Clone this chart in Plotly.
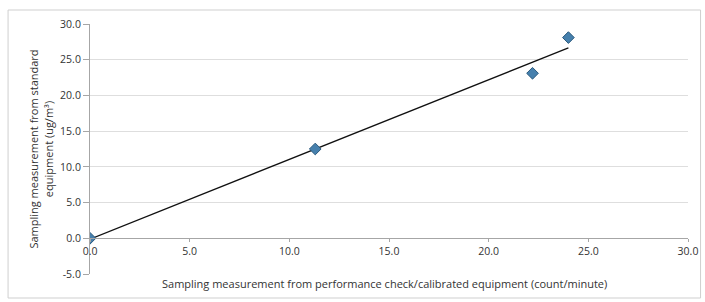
import numpy as np
import plotly.graph_objects as go

# Data
x_vals = [0.0, 11.3, 22.2, 24.0]
y_vals = [0.0, 12.5, 23.1, 28.1]

x_ticks = [0, 5, 10, 15, 20, 25, 30]
y_ticks = [-5, 0, 5, 10, 15, 20, 25, 30]

x_title = "Sampling measurement from performance check/calibrated equipment (count/minute)"
y_title = "Sampling measurement from standard<br>equipment (ug/m³)"

# Linear trendline from the data
slope, intercept = np.polyfit(x_vals, y_vals, 1)
tx = [min(x_vals), max(x_vals)]
ty = [slope * v + intercept for v in tx]

font = "Open Sans, Noto Sans, sans-serif"

fig = go.Figure()
fig.add_trace(go.Scatter(x=tx, y=ty, mode="lines",
                         line=dict(color="#111111", width=1.3),
                         showlegend=False, hoverinfo="skip"))
fig.add_trace(go.Scatter(x=x_vals, y=y_vals, mode="markers",
                         marker=dict(symbol="diamond", size=9, color="#4680ad",
                                     line=dict(color="#2b5a7e", width=1)),
                         showlegend=False))

fig.update_layout(
    width=705, height=302,
    margin=dict(l=90, r=17, t=24, b=28),
    paper_bgcolor="white", plot_bgcolor="white",
    font=dict(family=font, size=10, color="#333333"),
    xaxis=dict(range=[0, 30], tickvals=x_ticks,
               ticktext=[f"{v:.1f}" for v in x_ticks],
               anchor="free", position=5/35, automargin=False,
               showgrid=False, zeroline=False,
               showline=True, linecolor="#a6a6a6", linewidth=1,
               ticks="outside", ticklen=3, tickcolor="#a6a6a6",
               tickfont=dict(size=10.5, color="#333333")),
    yaxis=dict(range=[-5, 30], tickvals=y_ticks,
               ticktext=[f"{v:.1f}" for v in y_ticks],
               automargin=False,
               showgrid=True, gridcolor="#dedede", gridwidth=1,
               zeroline=False,
               showline=True, linecolor="#a6a6a6", linewidth=1,
               ticks="outside", ticklen=6, tickcolor="#a6a6a6",
               tickfont=dict(size=10.5, color="#333333"),
               title=dict(text=y_title, font=dict(size=11, color="#333333"),
                          standoff=4)),
    annotations=[dict(text=x_title, xref="paper", yref="paper",
                      x=0.493, y=-0.036, xanchor="center", yanchor="middle",
                      showarrow=False, font=dict(size=11, color="#333333"))],
    shapes=[dict(type="rect", xref="paper", yref="paper",
                 x0=-0.137, x1=1.021, y0=-0.096, y1=1.056,
                 line=dict(color="#cfcfcf", width=1))],
)

fig.write_html(
    "out.html",
    config={"displayModeBar": False},
    post_script="document.body.style.margin='0';document.body.style.overflow='hidden';",
)
